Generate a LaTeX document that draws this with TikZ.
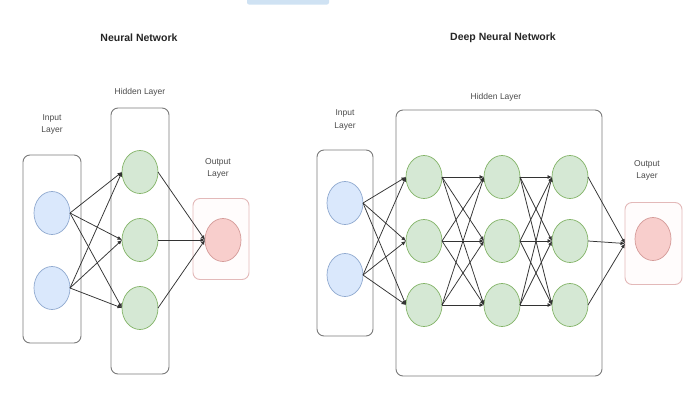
\documentclass[tikz,border=0pt]{standalone}
\usepackage{fontspec}
\setmainfont{Liberation Sans}
\usetikzlibrary{shapes.geometric,arrows.meta}

\definecolor{inFill}{HTML}{DAE8FC}
\definecolor{inLine}{HTML}{8FA9CF}
\definecolor{hidFill}{HTML}{D5E8D4}
\definecolor{hidLine}{HTML}{82B366}
\definecolor{outFill}{HTML}{F8CECC}
\definecolor{outLine}{HTML}{D49A98}
\definecolor{boxLine}{HTML}{7A7A7A}
\definecolor{outBoxLine}{HTML}{E3B9B9}
\definecolor{edgeCol}{HTML}{333333}
\definecolor{tabBlue}{HTML}{CFE2F3}

\tikzset{
  neuron/.style={ellipse, draw, line width=0.7pt, minimum width=36pt,
    minimum height=43pt, inner sep=0pt, outer sep=0pt},
  inneuron/.style={neuron, fill=inFill, draw=inLine},
  hidneuron/.style={neuron, fill=hidFill, draw=hidLine},
  outneuron/.style={neuron, fill=outFill, draw=outLine},
  layerbox/.style={rectangle, rounded corners=7pt, draw=boxLine,
    line width=0.9pt, inner sep=0pt, outer sep=0pt},
  outbox/.style={layerbox, draw=outBoxLine, fill=red!1},
  caption/.style={font=\fontsize{8.5}{12.5}\selectfont, text=black!70,
    align=center, inner sep=0pt},
  heading/.style={font=\fontsize{10.5}{12}\selectfont\bfseries,
    text=black!85, inner sep=0pt},
  link/.style={draw=edgeCol, line width=0.75pt,
    -{Latex[length=4.5pt,width=4pt]}}
}

\begin{document}
\begin{tikzpicture}[x=1pt,y=-1pt]
\useasboundingbox (0,0) rectangle (691,397);
\fill[white] (0,0) rectangle (691,397);

% small tab at the top edge
\fill[tabBlue, rounded corners=2pt] (247,-4) rectangle (329,4.5);

% ---------------- Neural Network ----------------
\node[heading] (t1) at (139,38) {Neural Network};

\node[layerbox, minimum width=58pt, minimum height=188pt] (ib1) at (52,249) {};
\node[layerbox, minimum width=58pt, minimum height=266pt] (hb1) at (140,241) {};
\node[outbox, minimum width=56pt, minimum height=81pt] (ob1) at (221,239) {};

\node[caption] (il1) at (52,124.5) {Input\\Layer};
\node[caption] (hl1) at (140,92) {Hidden Layer};
\node[caption] (ol1) at (218,168.5) {Output\\Layer};

\node[inneuron] (a1) at (52,213) {};
\node[inneuron] (a2) at (52,288) {};
\node[hidneuron] (b1) at (140,172) {};
\node[hidneuron] (b2) at (140,240) {};
\node[hidneuron] (b3) at (140,308) {};
\node[outneuron] (c1) at (223,240) {};

\foreach \s in {a1,a2}
  \foreach \t in {b1,b2,b3}
    \draw[link] (\s.east) -- (\t.west);
\foreach \s in {b1,b2,b3}
  \draw[link] (\s.east) -- (c1.west);

% ---------------- Deep Neural Network ----------------
\node[heading] (t2) at (503,38) {Deep Neural Network};

\node[layerbox, minimum width=56pt, minimum height=186pt] (ib2) at (345,243) {};
\node[layerbox, minimum width=206pt, minimum height=266pt] (hb2) at (499,243) {};
\node[outbox, minimum width=57pt, minimum height=82pt] (ob2) at (653.5,243.5) {};

\node[caption] (il2) at (345,120) {Input\\Layer};
\node[caption] (hl2) at (496,97) {Hidden Layer};
\node[caption] (ol2) at (647,170.5) {Output\\Layer};

\node[inneuron] (p1) at (345,203) {};
\node[inneuron] (p2) at (345,275) {};
\foreach \r/\y in {1/177,2/241,3/305}{
  \node[hidneuron] (q\r) at (424,\y) {};
  \node[hidneuron] (r\r) at (502,\y) {};
  \node[hidneuron] (s\r) at (570,\y) {};
}
\node[outneuron] (u1) at (653,239) {};

\foreach \s in {p1,p2}
  \foreach \t in {q1,q2,q3}
    \draw[link] (\s.east) -- (\t.west);
\foreach \s in {q1,q2,q3}
  \foreach \t in {r1,r2,r3}
    \draw[link] (\s.east) -- (\t.west);
\foreach \s in {r1,r2,r3}
  \foreach \t in {s1,s2,s3}
    \draw[link] (\s.east) -- (\t.west);
\foreach \s in {s1,s2,s3}
  \draw[link] (\s.east) -- (ob2.west);
\end{tikzpicture}
\end{document}
